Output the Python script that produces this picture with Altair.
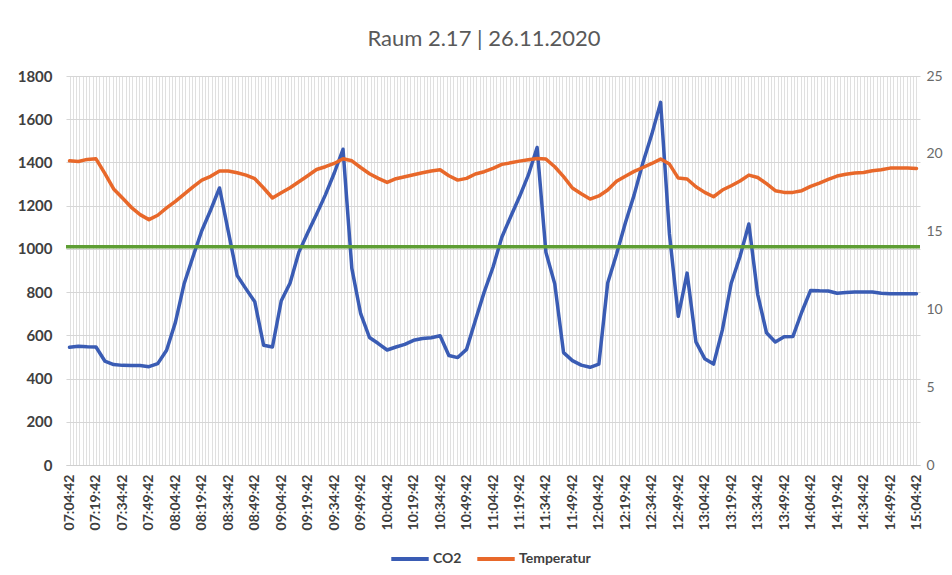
import altair as alt
import pandas as pd

# ---- data (one reading every 5 minutes, 07:04:42 .. 15:04:42)
co2 = [545, 549, 547, 546, 481, 465, 461, 460, 460, 455,
       469, 531, 660, 840, 965, 1085, 1180, 1282, 1080, 877,
       815, 755, 554, 546, 760, 842, 985, 1075, 1160, 1250,
       1350, 1461, 910, 700, 590, 562, 532, 546, 558, 577,
       585, 589, 598, 507, 497, 535, 669, 800, 915, 1054,
       1149, 1241, 1341, 1469, 984, 838, 520, 483, 462, 452,
       467, 842, 975, 1120, 1250, 1400, 1530, 1678, 1069, 688,
       888, 570, 492, 467, 625, 841, 965, 1115, 790, 612,
       569, 593, 595, 708, 808, 806, 805, 795, 798, 800,
       800, 800, 795, 792, 792, 792, 792]

temperatur = [19.55, 19.51, 19.64, 19.68, 18.74, 17.74, 17.16, 16.56, 16.09, 15.77,
              16.05, 16.52, 16.94, 17.41, 17.88, 18.31, 18.55, 18.89, 18.89, 18.78,
              18.63, 18.40, 17.80, 17.16, 17.50, 17.82, 18.20, 18.59, 18.99, 19.17,
              19.38, 19.68, 19.55, 19.12, 18.72, 18.42, 18.16, 18.40, 18.53, 18.65,
              18.78, 18.89, 18.97, 18.59, 18.31, 18.42, 18.70, 18.85, 19.06, 19.32,
              19.42, 19.53, 19.62, 19.70, 19.66, 19.17, 18.53, 17.80, 17.43, 17.09,
              17.29, 17.67, 18.23, 18.56, 18.87, 19.12, 19.38, 19.66, 19.34, 18.44,
              18.38, 17.88, 17.52, 17.24, 17.67, 17.95, 18.25, 18.63, 18.48, 18.08,
              17.63, 17.52, 17.52, 17.63, 17.91, 18.12, 18.36, 18.57, 18.68, 18.76,
              18.80, 18.91, 18.97, 19.08, 19.08, 19.08, 19.06]

threshold = [1010]

tick_labels = ["07:04:42", "07:19:42", "07:34:42", "07:49:42", "08:04:42", "08:19:42",
               "08:34:42", "08:49:42", "09:04:42", "09:19:42", "09:34:42", "09:49:42",
               "10:04:42", "10:19:42", "10:34:42", "10:49:42", "11:04:42", "11:19:42",
               "11:34:42", "11:49:42", "12:04:42", "12:19:42", "12:34:42", "12:49:42",
               "13:04:42", "13:19:42", "13:34:42", "13:49:42", "14:04:42", "14:19:42",
               "14:34:42", "14:49:42", "15:04:42"]

series_names = ["CO2", "Temperatur"]

# minutes after 07:04:42 for each reading
minutes = [5 * i for i in range(len(co2))]

df = pd.DataFrame({
    "m": minutes + minutes,
    "value": co2 + temperatur,
    "series": [series_names[0]] * len(co2) + [series_names[1]] * len(temperatur),
})
df_thr = pd.DataFrame({"threshold": threshold})

FONT = "Lato"
BLUE = "#3A5CB4"
ORANGE = "#E8682A"
GREEN = "#5E9E34"
TXT = "#404040"

grid_vals = [k * 1.875 for k in range(257)]
label_array = "[" + ",".join("'%s'" % t for t in tick_labels) + "]"
label_expr = "datum.value % 15 == 0 ? " + label_array + "[datum.value / 15] : ''"

xenc = alt.X(
    "m:Q",
    scale=alt.Scale(domain=[-2, 482], nice=False, zero=False),
    axis=alt.Axis(
        title=None, values=grid_vals, labelExpr=label_expr, labelAngle=-90,
        labelOverlap=False, labelFlush=False, labelBound=False,
        labelFont=FONT, labelFontSize=14, labelFontWeight="bold", labelColor=TXT,
        ticks=False, labelPadding=9, grid=True, gridColor="#e0e0e0", gridWidth=1,
        domainColor="#cfcfcf", domainWidth=1.2,
    ),
)

color = alt.Color(
    "series:N",
    scale=alt.Scale(domain=series_names, range=[BLUE, ORANGE]),
    legend=alt.Legend(
        title=None, orient="none", legendX=323, legendY=462, direction="horizontal",
        symbolType="stroke", symbolStrokeWidth=4, symbolSize=1400,
        labelFont=FONT, labelFontSize=14, labelFontWeight="bold", labelColor=TXT,
        columnPadding=7, labelOffset=2, padding=0,
    ),
)

base = alt.Chart(df)

co2_line = base.transform_filter(alt.datum.series == "CO2").mark_line(
    strokeWidth=3.5, strokeJoin="round", strokeCap="round"
).encode(
    x=xenc,
    y=alt.Y(
        "value:Q",
        scale=alt.Scale(domain=[0, 1800], nice=False),
        axis=alt.Axis(
            title=None, orient="left", values=list(range(0, 1801, 200)), format="d",
            grid=True, gridColor="#d6d6d6", gridWidth=1.2, domain=False, ticks=False,
            labelPadding=14, labelFont=FONT, labelFontSize=15, labelFontWeight="bold",
            labelColor=TXT,
        ),
    ),
    color=color,
)

temp_line = base.transform_filter(alt.datum.series == "Temperatur").mark_line(
    strokeWidth=3.5, strokeJoin="round", strokeCap="round"
).encode(
    x=xenc,
    y=alt.Y(
        "value:Q",
        scale=alt.Scale(domain=[0, 25], nice=False),
        axis=alt.Axis(
            title=None, orient="right", values=[0, 5, 10, 15, 20, 25], format="d",
            grid=False, domain=False, ticks=False, labelPadding=6,
            labelFont=FONT, labelFontSize=14, labelColor="#6a6a6a",
        ),
    ),
    color=color,
)

green_line = alt.Chart(df_thr).mark_rule(color=GREEN, strokeWidth=3.5, strokeCap="butt").encode(
    y=alt.Y("threshold:Q", scale=alt.Scale(domain=[0, 1800], nice=False), axis=None),
)

chart = alt.layer(co2_line, temp_line, green_line).resolve_scale(
    y="independent"
).properties(
    width=854,
    height=389,
    title=alt.TitleParams(
        "Raum 2.17 | 26.11.2020", font=FONT, fontSize=22, fontWeight="normal",
        color="#595959", anchor="middle", offset=18, dx=-9,
    ),
    padding={"left": 58, "top": 68, "right": 24, "bottom": 101},
    autosize=alt.AutoSizeParams(type="none"),
    background="white",
).configure_view(stroke=None)

chart.save("out.html", embed_options={"renderer": "svg", "actions": False})
